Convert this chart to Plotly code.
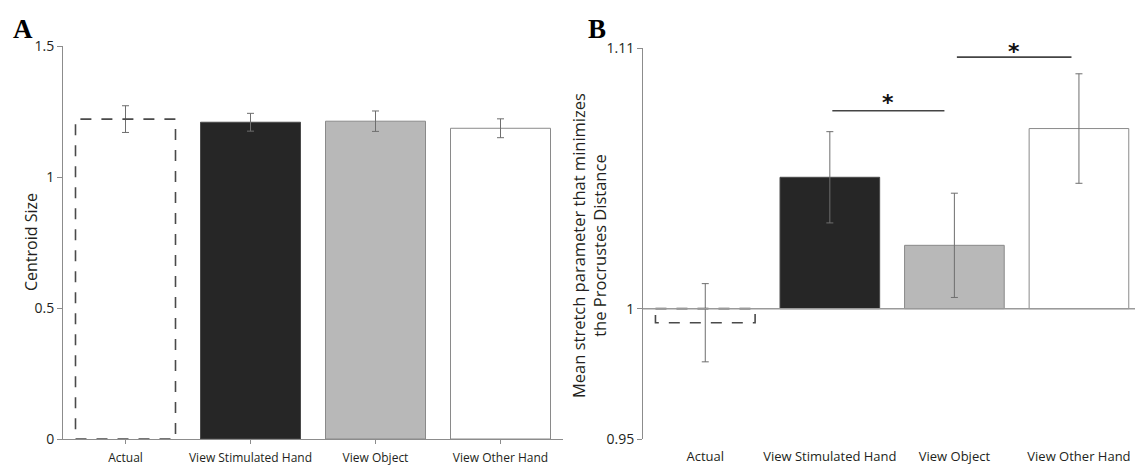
import plotly.graph_objects as go

# ---------------- data ----------------
categories = ["Actual", "View Stimulated Hand", "View Object", "View Other Hand"]

# Panel A: centroid size
centroid_mean = [1.221, 1.209, 1.213, 1.186]
centroid_err = [0.051, 0.034, 0.039, 0.036]

# Panel B: stretch parameter
stretch_mean = [0.9946, 1.0504, 1.0243, 1.0691]
stretch_err = [0.015, 0.0175, 0.020, 0.021]
stretch_base = 1.0

# significance brackets in panel B: (x start, x end, y level)
sig_x0 = [1.02, 2.02]
sig_x1 = [1.92, 2.94]
sig_y = [1.0759, 1.0965]
sig_star_y = [1.0848, 1.1042]
sig_label = ["*", "*"]

# ticks
a_tickvals = [0, 0.5, 1, 1.5]
a_ticktext = ["0", "0.5", "1", "1.5"]
b_tickvals = [0.95, 1.0, 1.10]
b_ticktext = ["0.95", "1", "1.11"]
b_range = [0.95, 1.10]

# ---------------- style / geometry ----------------
FONT = "Open Sans"
AXC = "#8c8c8c"
TXT = "#231f20"
fills = ["rgba(0,0,0,0)", "#262626", "#b8b8b8", "#ffffff"]
edges = ["rgba(0,0,0,0)", "#4a4a4a", "#8a8a8a", "#8a8a8a"]
edge_w = [0, 1, 1, 1]
BARW = 0.8

W, H = 1135, 467


def px(x):
    return x / W


def py(y):
    return 1 - y / H


xs = list(range(len(categories)))

fig = go.Figure()

# Panel A bars
fig.add_trace(go.Bar(
    x=xs, y=centroid_mean, width=BARW,
    marker=dict(color=fills, line=dict(color=edges, width=edge_w)),
    error_y=dict(type="data", array=centroid_err, color="#6e6e6e", thickness=1, width=3.5),
    xaxis="x", yaxis="y", showlegend=False,
))

# Panel B bars (based at 1)
fig.add_trace(go.Bar(
    x=xs, y=[m - stretch_base for m in stretch_mean], base=stretch_base, width=BARW,
    marker=dict(color=fills, line=dict(color=edges, width=edge_w)),
    error_y=dict(type="data", array=stretch_err, color="#6e6e6e", thickness=1, width=3.5),
    xaxis="x2", yaxis="y2", showlegend=False,
))

shapes = []
# dashed "Actual" boxes
shapes.append(dict(type="rect", xref="x", yref="y",
                   x0=xs[0] - BARW / 2, x1=xs[0] + BARW / 2, y0=0, y1=centroid_mean[0],
                   line=dict(color="#4a4a4a", width=1.6, dash="11px,10px"),
                   fillcolor="rgba(0,0,0,0)", layer="above"))
shapes.append(dict(type="rect", xref="x2", yref="y2",
                   x0=xs[0] - BARW / 2, x1=xs[0] + BARW / 2, y0=stretch_base, y1=stretch_mean[0],
                   line=dict(color="#4a4a4a", width=1.6, dash="11px,10px"),
                   fillcolor="rgba(0,0,0,0)", layer="above"))
# baseline at 1 in panel B
shapes.append(dict(type="line", xref="x2 domain", yref="y2", x0=0, x1=1,
                   y0=stretch_base, y1=stretch_base,
                   line=dict(color="#9a9a9a", width=1.5), layer="above"))
# significance lines
for a, b, y in zip(sig_x0, sig_x1, sig_y):
    shapes.append(dict(type="line", xref="x2", yref="y2", x0=a, x1=b, y0=y, y1=y,
                       line=dict(color="#444444", width=1.6)))

annotations = []
for a, b, y, t in zip(sig_x0, sig_x1, sig_star_y, sig_label):
    annotations.append(dict(xref="x2", yref="y2 domain", x=(a + b) / 2,
                            y=(y - b_range[0]) / (b_range[1] - b_range[0]), text="<b>" + t + "</b>",
                            showarrow=False, font=dict(family="DejaVu Sans", size=22, color="#111")))

# panel letters
annotations.append(dict(xref="paper", yref="paper", x=px(11), y=py(12), xanchor="left", yanchor="top",
                        text="<b>A</b>", showarrow=False,
                        font=dict(family="Liberation Serif", size=27, color="#000")))
annotations.append(dict(xref="paper", yref="paper", x=px(586), y=py(12), xanchor="left", yanchor="top",
                        text="<b>B</b>", showarrow=False,
                        font=dict(family="Liberation Serif", size=27, color="#000")))

# axis titles
annotations.append(dict(xref="paper", yref="paper", x=px(18), y=py(242), textangle=-90,
                        text="Centroid Size", showarrow=False,
                        font=dict(family=FONT, size=16, color=TXT)))
annotations.append(dict(xref="paper", yref="paper", x=px(589), y=py(245), textangle=-90,
                        text="Mean stretch parameter that minimizes<br>the Procrustes Distance",
                        showarrow=False,
                        font=dict(family=FONT, size=16.5, color=TXT)))

fig.update_layout(
    width=W, height=H,
    margin=dict(l=0, r=0, t=0, b=0),
    paper_bgcolor="white", plot_bgcolor="white",
    bargap=0.2,
    shapes=shapes, annotations=annotations,
    font=dict(family=FONT, color=TXT),
    xaxis=dict(domain=[px(63), px(563)], range=[-0.5, 3.5], anchor="y",
               tickvals=xs, ticktext=categories, tickfont=dict(size=12),
               showline=True, linecolor=AXC, linewidth=1, ticks="outside", ticklen=4,
               tickcolor=AXC, showgrid=False, zeroline=False, automargin=False,
               ticklabelstandoff=4),
    yaxis=dict(domain=[py(439), py(46)], range=[0, 1.5], anchor="x",
               tickvals=a_tickvals, ticktext=a_ticktext, tickfont=dict(size=14),
               showline=True, linecolor=AXC, linewidth=1, ticks="outside", ticklen=5,
               tickcolor=AXC, showgrid=False, zeroline=False, automargin=False),
    xaxis2=dict(domain=[px(643), 1.0], range=[-0.5, 3.45], anchor="y2",
                tickvals=xs, ticktext=categories, tickfont=dict(size=13),
                showline=False, ticks="", showgrid=False, zeroline=False, automargin=False,
                ticklabelstandoff=8),
    yaxis2=dict(domain=[py(439), py(48)], range=b_range, anchor="x2",
                tickvals=b_tickvals, ticktext=b_ticktext, tickfont=dict(size=14),
                showline=True, linecolor=AXC, linewidth=1, ticks="outside", ticklen=5,
                tickcolor=AXC, showgrid=False, zeroline=False, automargin=False),
)

fig.write_html(
    "out.html",
    config={"displayModeBar": False},
    post_script="document.body.style.margin='0';document.body.style.overflow='hidden';",
)
